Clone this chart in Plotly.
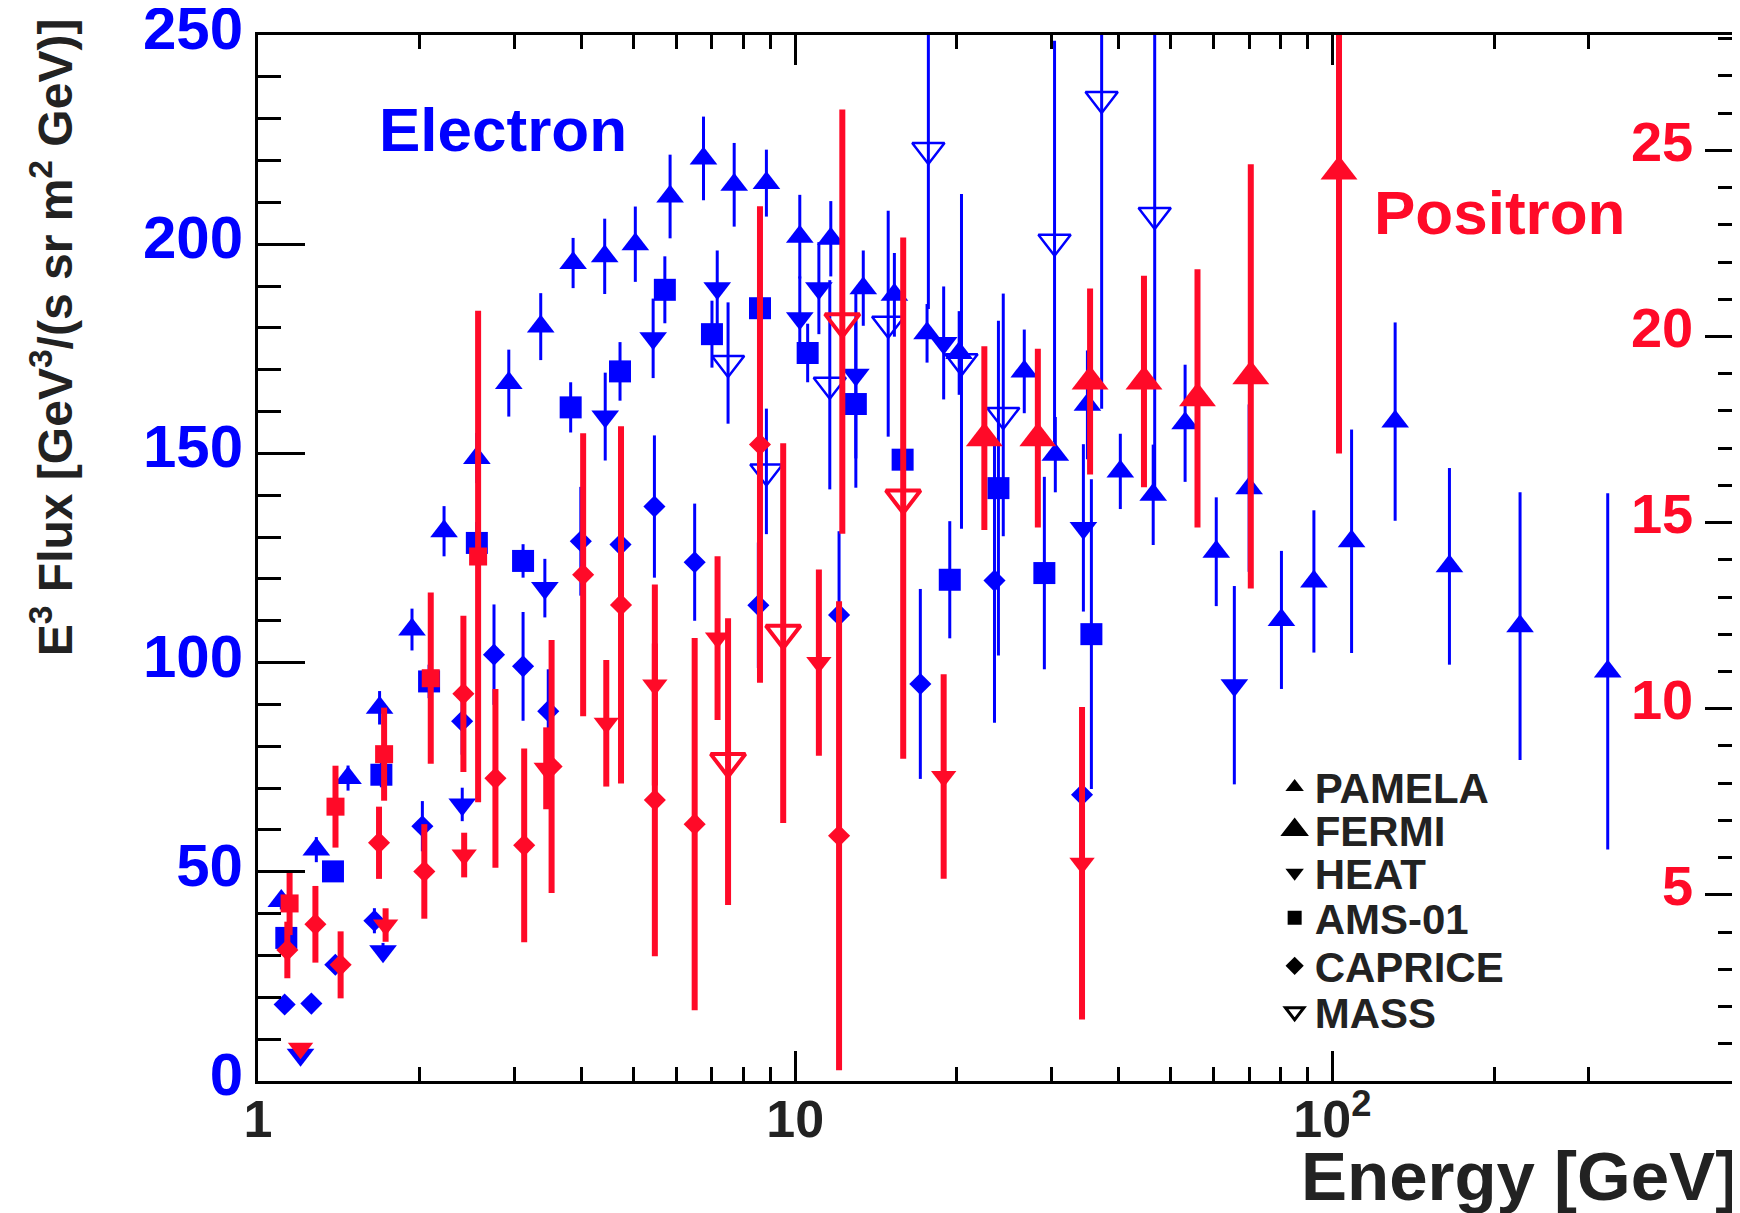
import numpy as np
import plotly.graph_objects as go

BLUE = "#0000ff"
RED = "#ff0a28"
DARK = "#222222"
FONT = "Liberation Sans, Arial, Helvetica, sans-serif"

# ---------------- Electron data (left axis, GeV^3/(s sr m^2 GeV)) ----------------
pamela_e_E = [1.105, 1.284, 1.471, 1.684, 1.935, 2.22, 2.555, 2.93, 3.36, 3.86,
              4.42, 5.04, 5.85, 6.75, 7.70, 8.84, 10.2, 11.65, 13.39, 15.3,
              17.6, 20.2, 26.7, 30.5, 35.0, 40.3, 46.4, 53.2, 60.8, 70.0,
              80.4, 92.4, 108.6, 130.9, 165.2, 223.6, 325.6]
pamela_e_F = [43, 55.3, 72.4, 89.2, 107.9, 131.4, 148.9, 166.8, 180.3, 195.5,
              197.1, 200, 211.4, 220.5, 214.2, 214.6, 201.8, 201.3, 189.5, 187.9,
              178.7, 174, 169.6, 149.7, 161.6, 145.7, 140.1, 157.2, 126.5, 141.7,
              110.2, 119.4, 129, 157.6, 123, 108.7, 97.9]
pamela_e_err = [2, 3, 3, 4, 5, 6, 6, 8, 8, 6,
                9, 9, 10, 10, 10, 8, 10, 9, 9, 10,
                7, 10, 10, 9, 13, 9, 12, 14, 13, 20,
                16.5, 17, 26.7, 23.7, 23.5, 32, 42.6]

heat_e_E = [1.2, 1.709, 2.4, 3.42, 4.43, 5.44, 7.16, 10.2, 11.07, 12.97, 18.9, 34.4, 65.7]
heat_e_F = [6.3, 31.0, 66.1, 117.8, 158.8, 177.5, 189.5, 182.3, 189.5, 168.8, 176.4, 132.2, 94.6]
heat_e_err = [1, 2, 4, 7, 10.5, 9.5, 9, 10, 11, 20, 13.5, 20, 23.7]

ams_e_E = [1.129, 1.379, 1.697, 2.082, 2.555, 3.115, 3.82, 4.72, 5.72, 7.0,
           8.6, 10.55, 12.97, 15.85, 19.4, 23.9, 29.1, 35.6]
ams_e_F = [34.2, 50.1, 73.2, 95.5, 128.6, 124.3, 161.0, 169.6, 189.1, 178.5,
           184.7, 174, 161.8, 148.5, 119.8, 141.7, 121.4, 106.8]
ams_e_err = [2, 2, 3, 4, 5, 4, 6, 7, 8, 8, 10, 7, 20, 8, 14, 40, 23, 37]

caprice_e_E = [1.121, 1.257, 1.393, 1.647, 2.023, 2.399, 2.75, 3.115, 3.47, 3.99,
               4.73, 5.47, 6.5, 8.54, 12.07, 17.1, 23.5, 34.2]
caprice_e_F = [18.3, 18.5, 27.8, 38.3, 60.9, 86.0, 101.9, 99.1, 88.4, 129,
               128.2, 137.3, 124.0, 113.7, 111.4, 94.9, 119.6, 68.4]
caprice_e_err = [1, 1, 2, 3, 6, 8, 12, 13, 10, 13, 12, 17, 14, 15, 20, 22.7, 34, 10]

mass_e_E = [7.5, 8.84, 11.6, 14.9, 17.7, 20.4, 24.4, 30.4, 37.2, 46.7]
mass_e_F = [171.6, 145.7, 166.4, 181, 222.5, 172, 159.2, 200.6, 234.7, 207]
mass_e_err = [14.5, 15, 25, 27, 38, 40, 29, 48, 74, 68]

# ---------------- Positron data (right axis) ----------------
ams_p_E = [1.145, 1.394, 1.717, 2.097, 2.569]
ams_p_F = [4.77, 7.37, 8.78, 10.82, 14.09]
ams_p_err = [0.85, 1.1, 1.25, 2.3, 6.6]

caprice_p_E = [1.134, 1.279, 1.425, 1.68, 2.04, 2.412, 2.767, 3.13, 3.52, 4.03,
               4.74, 5.48, 6.5, 8.6, 12.07]
caprice_p_F = [3.52, 4.21, 3.12, 6.40, 5.63, 10.4, 8.13, 6.33, 8.45, 13.6,
               12.79, 7.55, 6.9, 17.1, 6.59]
caprice_p_err = [0.76, 1.03, 0.9, 0.97, 1.27, 2.1, 2.4, 2.6, 3.4, 3.8,
                 4.8, 4.2, 5.0, 6.4, 6.3]

heat_p_E = [1.2, 1.728, 2.42, 3.44, 4.45, 5.48, 7.17, 11.07, 18.9, 34.2]
heat_p_F = [0.88, 4.19, 6.07, 8.4, 9.61, 10.64, 11.9, 11.24, 8.18, 5.85]
heat_p_err = [0, 0.45, 0.6, 1.1, 1.7, 2.7, 2.2, 2.5, 2.75, 4.2]

mass_p_E = [7.5, 9.5, 12.24, 15.89]
mass_p_F = [8.58, 12.03, 20.4, 15.66]
mass_p_err = [3.85, 5.1, 5.7, 7.0]

fermi_p_E = [22.5, 28.3, 35.4, 44.6, 56.1, 70.5, 102.9]
fermi_p_F = [17.27, 17.27, 18.79, 18.79, 18.34, 18.93, 24.43]
fermi_p_err = [2.47, 2.4, 2.5, 2.84, 3.47, 5.7, 7.57]

# axis ticks
x_major = [1, 10, 100]
x_major_text = ["1", "10", "10<sup>2</sup>"]
x_minor = [2, 3, 4, 5, 6, 7, 8, 9, 20, 30, 40, 50, 60, 70, 80, 90, 200, 300, 400, 500]
x_max = 574
y_left_range = [0, 250]
y_right_range = [0, 28.1]
y_right_ticks = [5, 10, 15, 20, 25]

legend_names = ["PAMELA", "FERMI", "HEAT", "AMS-01", "CAPRICE", "MASS"]

fig = go.Figure()


def add(E, F, err, symbol, size, color, thick, axis, line_w=0):
    fig.add_trace(go.Scatter(
        x=E, y=F, mode="markers", yaxis=axis, showlegend=False,
        marker=dict(symbol=symbol, size=size, color=color,
                    line=dict(width=line_w, color=color)),
        error_y=dict(type="data", array=err, visible=True, color=color,
                     thickness=thick, width=0),
        hoverinfo="x+y",
    ))


# electrons (blue, thin bars)
add(caprice_e_E, caprice_e_F, caprice_e_err, "diamond", 17, BLUE, 3, "y")
add(ams_e_E, ams_e_F, ams_e_err, "square", 22, BLUE, 3, "y")
add(heat_e_E, heat_e_F, heat_e_err, "triangle-down", 24, BLUE, 3, "y")
add(pamela_e_E, pamela_e_F, pamela_e_err, "triangle-up", 24, BLUE, 3, "y")
add(mass_e_E, mass_e_F, mass_e_err, "triangle-down-open", 28, BLUE, 3, "y", line_w=2.5)

# positrons (red, thick bars)
add(caprice_p_E, caprice_p_F, caprice_p_err, "diamond", 17, RED, 6, "y2")
add(ams_p_E, ams_p_F, ams_p_err, "square", 18, RED, 6, "y2")
add(heat_p_E, heat_p_F, heat_p_err, "triangle-down", 22, RED, 6, "y2")
add(mass_p_E, mass_p_F, mass_p_err, "triangle-down-open", 30, RED, 6, "y2", line_w=4)
add(fermi_p_E, fermi_p_F, fermi_p_err, "triangle-up", 32, RED, 6, "y2")

# legend entries (black symbols), one legend box each for ROOT-like spacing
leg_symbols = ["triangle-up", "triangle-up", "triangle-down", "square", "diamond", "triangle-down-open"]
leg_sizes = [16, 16, 16, 14, 14, 16]
leg_lines = [0, 5, 0, 0, 0, 3]
leg_ids = ["legend", "legend2", "legend3", "legend4", "legend5", "legend6"]
leg_y = [0.2808, 0.2402, 0.1988, 0.1558, 0.1099, 0.0660]
for name, sym, sz, lw, lid in zip(legend_names, leg_symbols, leg_sizes, leg_lines, leg_ids):
    fig.add_trace(go.Scatter(
        x=[None], y=[None], mode="markers", name=name, legend=lid,
        marker=dict(symbol=sym, size=sz, color="black", line=dict(width=lw, color="black")),
    ))

legend_common = dict(x=0.686, xanchor="left", yanchor="middle", bgcolor="rgba(0,0,0,0)",
                     borderwidth=0, itemsizing="trace",
                     font=dict(family=FONT, size=42, color=DARK, weight="bold"))
legend_layouts = {lid: dict(legend_common, y=yy) for lid, yy in zip(leg_ids, leg_y)}

fig.update_layout(
    width=1740, height=1213,
    margin=dict(l=250, r=8, t=27, b=140, autoexpand=False),
    paper_bgcolor="white", plot_bgcolor="white",
    font=dict(family=FONT),
    xaxis=dict(
        type="log", range=[0, np.log10(x_max)], automargin=False,
        showline=True, linecolor="black", linewidth=3, mirror="ticks",
        ticks="inside", ticklen=30, tickwidth=3, tickcolor="black",
        tickmode="array", tickvals=x_major, ticktext=x_major_text,
        tickfont=dict(family=FONT, size=52, color=DARK, weight="bold"),
        ticklabelstandoff=-9,
        showgrid=False, zeroline=False,
        minor=dict(tickmode="array", tickvals=x_minor, ticks="inside",
                   ticklen=14, tickwidth=3, tickcolor="black", showgrid=False),
    ),
    yaxis=dict(
        range=y_left_range, automargin=False,
        showline=True, linecolor="black", linewidth=3,
        ticks="inside", ticklen=47, tickwidth=3, tickcolor="black",
        tickmode="linear", tick0=0, dtick=50,
        tickfont=dict(family=FONT, size=60, color=BLUE, weight="bold"),
        ticklabeloverflow="allow", ticklabelshift=-7,
        showgrid=False, zeroline=False,
        minor=dict(tick0=0, dtick=10, ticks="inside", ticklen=23, tickwidth=3,
                   tickcolor="black", showgrid=False),
    ),
    yaxis2=dict(
        overlaying="y", side="right", range=y_right_range, automargin=False,
        showline=True, linecolor="black", linewidth=3,
        ticks="inside", ticklen=35, tickwidth=3, tickcolor="black",
        tickmode="array", tickvals=y_right_ticks,
        ticklabelposition="inside", ticklabelstandoff=20, ticklabelshift=-9,
        tickfont=dict(family=FONT, size=56, color=RED, weight="bold"),
        showgrid=False, zeroline=False,
        minor=dict(tick0=0, dtick=1, ticks="inside", ticklen=22, tickwidth=3,
                   tickcolor="black", showgrid=False),
    ),
    annotations=[
        dict(text="Electron", xref="paper", yref="paper", x=0.165, y=0.910,
             xanchor="center", yanchor="middle", showarrow=False,
             font=dict(family=FONT, size=62, color=BLUE, weight="bold")),
        dict(text="Positron", xref="paper", yref="paper", x=0.8375, y=0.8306,
             xanchor="center", yanchor="middle", showarrow=False,
             font=dict(family=FONT, size=62, color=RED, weight="bold")),
        dict(text="E<sup>3</sup> Flux [GeV<sup>3</sup>/(s sr m<sup>2</sup> GeV)]",
             xref="paper", yref="paper", x=-0.139, y=1.018, textangle=-90,
             xanchor="center", yanchor="top", showarrow=False,
             font=dict(family=FONT, size=48, color=DARK, weight="bold")),
        dict(text="Energy [GeV]", xref="paper", yref="paper", x=1.0, y=-0.0915,
             xanchor="right", yanchor="middle", showarrow=False,
             font=dict(family=FONT, size=69, color=DARK, weight="bold")),
    ],
    **legend_layouts,
)

fig.write_html("out.html")
